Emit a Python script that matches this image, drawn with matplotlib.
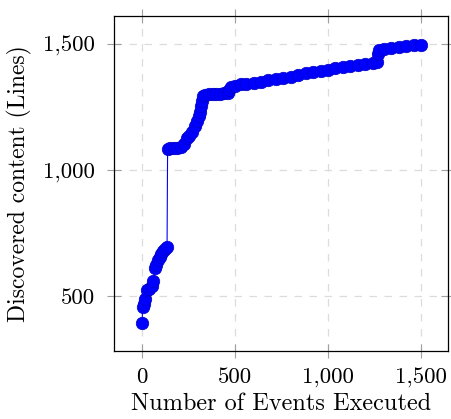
import matplotlib
matplotlib.use("Agg")
import matplotlib.pyplot as plt
from matplotlib.ticker import FuncFormatter, MultipleLocator

# events executed vs discovered lines
events = [0, 5, 10, 18, 25, 40, 55, 62, 70, 78, 86, 95, 105, 115, 125, 135,
          138, 150, 170, 190, 210, 225, 240, 255, 270, 285, 295, 305, 312, 318,
          322, 326, 340, 360, 380, 400, 420, 440, 460, 470, 480, 500, 530, 560,
          600, 640, 680, 720, 760, 800, 840, 880, 920, 960, 1000, 1040, 1080,
          1120, 1160, 1200, 1240, 1262, 1268, 1275, 1300, 1340, 1380, 1420,
          1460, 1500]
lines = [392, 458, 470, 490, 524, 528, 540, 560, 610, 625, 643, 655, 668, 678,
         688, 694,
         1085, 1086, 1087, 1088, 1090, 1105, 1127, 1135, 1150, 1175, 1195, 1215,
         1230, 1255, 1275, 1292, 1298, 1302, 1302, 1303, 1303, 1304, 1306, 1318,
         1328, 1334, 1340, 1343, 1345, 1350, 1357, 1362, 1366, 1370, 1376, 1383,
         1390, 1394, 1398, 1403, 1408, 1414, 1418, 1422, 1426, 1430, 1462, 1476,
         1482, 1486, 1490, 1493, 1495, 1497]

plt.rcParams['font.family'] = 'cmr10'
plt.rcParams['axes.formatter.use_mathtext'] = True
plt.rcParams['font.size'] = 16

fig = plt.figure(figsize=(4.51, 4.19), dpi=100)
ax = fig.add_axes([0.2528, 0.1623, 0.7406, 0.7995])

ax.plot(events, lines, color='#0000ff', linewidth=0.8, marker='o',
        markersize=9, markerfacecolor='#0000ff', markeredgecolor='#0000c8',
        markeredgewidth=0.5)

ax.set_xlim(-150, 1645)
ax.set_ylim(282, 1611)
ax.xaxis.set_major_locator(MultipleLocator(500))
ax.yaxis.set_major_locator(MultipleLocator(500))
fmt = FuncFormatter(lambda v, p: f'{v:,.0f}')
ax.xaxis.set_major_formatter(fmt)
ax.yaxis.set_major_formatter(fmt)

ax.grid(True, color='#dcdcdc', linestyle=(0, (6, 6)), linewidth=0.9)
ax.set_axisbelow(True)
ax.tick_params(direction='inout', length=10, color='#a0a0a0', width=0.8,
               top=True, right=True, labelsize=16.5)
ax.tick_params(axis='x', pad=7)
ax.tick_params(axis='y', pad=9)
for s in ax.spines.values():
    s.set_linewidth(0.9)

ax.set_xlabel('Number of Events Executed', fontsize=17.5, labelpad=4)
ax.set_ylabel('Discovered content (Lines)', fontsize=17, labelpad=8)

fig.savefig('out.png', dpi=100)
